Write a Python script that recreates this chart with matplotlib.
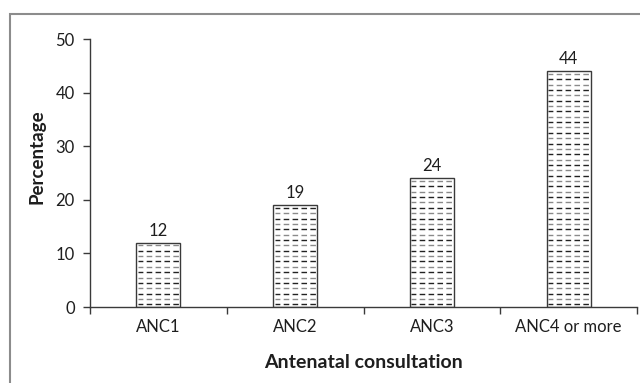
import matplotlib
matplotlib.use("Agg")
import matplotlib.pyplot as plt
from matplotlib.patches import Rectangle
import numpy as np

# ANC visit counts and share of women (%)
categories = ["ANC1", "ANC2", "ANC3", "ANC4 or more"]
percentages = [12, 19, 24, 44]

plt.rcParams["font.family"] = ["Lato", "DejaVu Sans"]
plt.rcParams["lines.scale_dashes"] = False

W, H = 640, 383
fig = plt.figure(figsize=(W / 100, H / 100), dpi=100)
ax = fig.add_axes([90 / W, 1 - 307 / H, (637 - 90) / W, (307 - 39) / H])

dark = "#3a3a3a"
txt = "#1e1e1e"
x = np.arange(len(categories))
bar_w = 0.32

bars = ax.bar(x, percentages, width=bar_w, color="white", edgecolor=dark,
              linewidth=1.0, zorder=2)

# dashed horizontal fill inside each bar, alternating black/gray rows
for xi, val in zip(x, percentages):
    rows = np.arange(0.5, val, 1.0)
    for k, yr in enumerate(rows):
        col = "#222222" if k % 2 == 0 else "#8a8a8a"
        ax.hlines(yr, xi - bar_w / 2 + 0.01, xi + bar_w / 2 - 0.01, colors=col,
                  linewidth=1.0, linestyles=(0.5, (4.0, 2.4)), zorder=3)
    ax.annotate(str(val), (xi, val), xytext=(0, 3), textcoords="offset points",
                ha="center", va="bottom", fontsize=12, color=txt)

ax.set_xlim(-0.5, len(categories) - 0.5)
ax.set_ylim(0, 50)
ax.set_yticks(range(0, 51, 10))

# boundary ticks on the category axis, labels centred between them
ax.set_xticks(np.arange(-0.5, len(categories), 1.0))
ax.set_xticklabels([])
ax.set_xticks(x, minor=True)
ax.set_xticklabels(categories, minor=True)
ax.tick_params(axis="x", which="major", length=5, width=1, color=dark)
ax.tick_params(axis="x", which="minor", length=0, pad=9, labelsize=12,
               labelcolor=txt)
ax.tick_params(axis="y", length=5, width=1, color=dark, pad=6, labelsize=12,
               labelcolor=txt)

for side in ("top", "right"):
    ax.spines[side].set_visible(False)
for side in ("left", "bottom"):
    ax.spines[side].set_color(dark)
    ax.spines[side].set_linewidth(1.0)

fig.text(37 / W, 1 - 157 / H, "Percentage", rotation=90, ha="center",
         va="center", fontsize=13.5, fontweight="bold", color=txt)
fig.text(363 / W, 1 - 362 / H, "Antenatal consultation", ha="center",
         va="center", fontsize=14, fontweight="bold", color=txt)

# outer frame
fig.patches.append(Rectangle((9.5 / W, -0.1), 1.1, 1 - 13.5 / H + 0.1,
                             transform=fig.transFigure, fill=False,
                             edgecolor="#8c8c8c", linewidth=1.5))

fig.savefig("out.png", dpi=100)
